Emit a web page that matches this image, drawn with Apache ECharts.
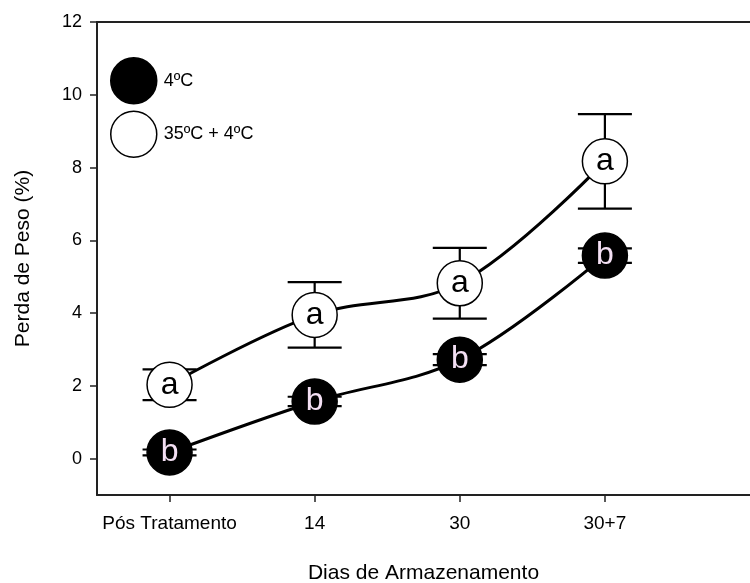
<!DOCTYPE html>
<html>
<head>
<meta charset="utf-8">
<script src="https://cdn.jsdelivr.net/npm/echarts@6/dist/echarts.min.js"></script>
<style>
html,body{margin:0;padding:0;background:#fff;}
#chart{width:750px;height:583px;}
</style>
</head>
<body>
<div id="chart"></div>
<script>
// ---- data ----
const categories = ['Pós Tratamento', '14', '30', '30+7'];
const seriesNames = ['4ºC', '35ºC + 4ºC'];
const coldMean = [0.17, 1.57, 2.72, 5.58];
const coldErr = [0.08, 0.13, 0.15, 0.2];
const coldLetters = ['b', 'b', 'b', 'b'];
const heatMean = [2.03, 3.95, 4.82, 8.17];
const heatErr = [0.42, 0.9, 0.97, 1.3];
const heatLetters = ['a', 'a', 'a', 'a'];
const yTicks = [0, 2, 4, 6, 8, 10, 12];
const xTicks = [0, 1, 2, 3];

const FONT = '"Liberation Sans", Arial, sans-serif';

function pts(vals) { return vals.map((v, i) => [i, v]); }
function errPts(vals, errs) { return vals.map((v, i) => [i, v, errs[i]]); }

function errRender(params, api) {
  const x = api.value(0), m = api.value(1), e = api.value(2);
  const top = api.coord([x, m + e]);
  const bot = api.coord([x, m - e]);
  const hw = 27;
  const st = { stroke: '#000', lineWidth: 2.2 };
  return {
    type: 'group',
    children: [
      { type: 'line', shape: { x1: top[0], y1: top[1], x2: bot[0], y2: bot[1] }, style: st },
      { type: 'line', shape: { x1: top[0] - hw, y1: top[1], x2: top[0] + hw, y2: top[1] }, style: st },
      { type: 'line', shape: { x1: bot[0] - hw, y1: bot[1], x2: bot[0] + hw, y2: bot[1] }, style: st }
    ]
  };
}

const chart = echarts.init(document.getElementById('chart'), null, { renderer: 'canvas' });
chart.setOption({
  animation: false,
  backgroundColor: '#fff',
  textStyle: { fontFamily: FONT },
  grid: { left: 97, right: 0, top: 22, bottom: 88, containLabel: false, outerBoundsMode: 'none' },
  legend: {
    orient: 'vertical',
    left: 105,
    top: 52,
    itemWidth: 46,
    itemHeight: 46,
    itemGap: 6,
    selectedMode: false,
    textStyle: { fontFamily: FONT, fontSize: 18, color: '#000', padding: [0, 0, 0, 2] },
    data: [
      { name: seriesNames[0], icon: 'circle', itemStyle: { color: '#000', borderColor: '#000', borderWidth: 1.5 } },
      { name: seriesNames[1], icon: 'circle', itemStyle: { color: '#fff', borderColor: '#000', borderWidth: 1.5 } }
    ]
  },
  xAxis: [
    {
      type: 'value',
      min: -0.5,
      max: 4,
      position: 'bottom',
      splitLine: { show: false },
      axisLine: { show: true, onZero: false, lineStyle: { color: '#222', width: 2 } },
      axisTick: { show: true, customValues: xTicks, length: 7, lineStyle: { color: '#222', width: 1.5 } },
      axisLabel: {
        show: true, customValues: xTicks, margin: 19,
        fontFamily: FONT, fontSize: 19, color: '#000',
        formatter: v => categories[Math.round(v)] || ''
      },
      name: 'Dias de Armazenamento',
      nameLocation: 'middle',
      nameGap: 68,
      nameTextStyle: { fontFamily: FONT, fontSize: 21, color: '#000' }
    },
    {
      type: 'value',
      min: -0.5,
      max: 4,
      position: 'top',
      splitLine: { show: false },
      axisLine: { show: true, onZero: false, lineStyle: { color: '#222', width: 2 } },
      axisTick: { show: false },
      axisLabel: { show: false }
    }
  ],
  yAxis: {
    type: 'value',
    min: -1,
    max: 12,
    splitLine: { show: false },
    axisLine: { show: true, onZero: false, lineStyle: { color: '#222', width: 2 } },
    axisTick: { show: true, customValues: yTicks, length: 7, lineStyle: { color: '#222', width: 1.5 } },
    axisLabel: { show: true, customValues: yTicks, margin: 15, fontFamily: FONT, fontSize: 18, color: '#000' },
    name: 'Perda de Peso (%)',
    nameLocation: 'middle',
    nameGap: 63,
    nameTextStyle: { fontFamily: FONT, fontSize: 21, color: '#000' }
  },
  series: [
    {
      type: 'custom',
      name: 'errCold',
      xAxisIndex: 0,
      renderItem: errRender,
      data: errPts(coldMean, coldErr),
      z: 1,
      silent: true
    },
    {
      type: 'custom',
      name: 'errHeat',
      xAxisIndex: 0,
      renderItem: errRender,
      data: errPts(heatMean, heatErr),
      z: 1,
      silent: true
    },
    {
      type: 'line',
      name: seriesNames[1],
      xAxisIndex: 0,
      data: pts(heatMean),
      smooth: 0.35,
      symbol: 'circle',
      symbolSize: 45,
      lineStyle: { color: '#000', width: 3 },
      itemStyle: { color: '#fff', borderColor: '#000', borderWidth: 1.5 },
      label: {
        show: true, position: 'inside',
        formatter: p => heatLetters[p.dataIndex],
        fontFamily: FONT, fontSize: 32, color: '#000'
      },
      z: 3
    },
    {
      type: 'line',
      name: seriesNames[0],
      xAxisIndex: 0,
      data: pts(coldMean),
      smooth: 0.35,
      symbol: 'circle',
      symbolSize: 45,
      lineStyle: { color: '#000', width: 3 },
      itemStyle: { color: '#000', borderColor: '#000', borderWidth: 1.5 },
      label: {
        show: true, position: 'inside',
        formatter: p => coldLetters[p.dataIndex],
        fontFamily: FONT, fontSize: 32, color: '#f4e0f4'
      },
      z: 3
    }
  ]
});
</script>
</body>
</html>
